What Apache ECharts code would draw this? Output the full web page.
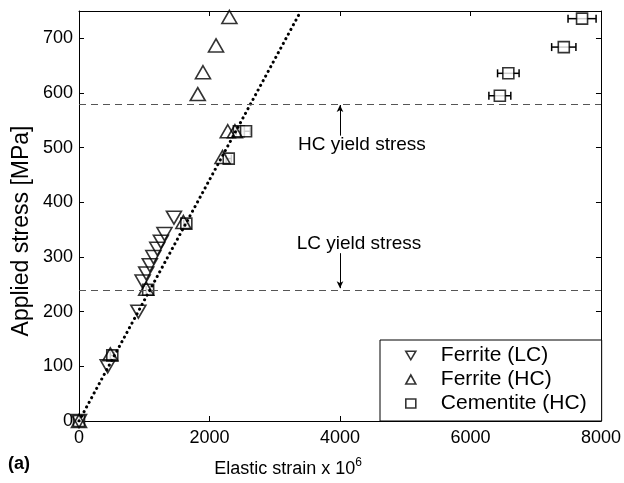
<!DOCTYPE html>
<html>
<head>
<meta charset="utf-8">
<script src="https://cdn.jsdelivr.net/npm/echarts@6/dist/echarts.min.js"></script>
<style>
  html, body { margin: 0; padding: 0; background: #fff; }
  #chart { width: 624px; height: 483px; }
</style>
</head>
<body>
<div id="chart"></div>
<script>
// Elastic lattice strain vs applied stress
const xTicks = [0, 2000, 4000, 6000, 8000];
const yTicks = [0, 100, 200, 300, 400, 500, 600, 700];

// [strain x 1e6, stress MPa]
const ferriteLC = [
  [0, 0], [440, 100], [910, 200], [975, 255], [1030, 270], [1085, 285],
  [1140, 300], [1200, 315], [1255, 328], [1310, 342], [1455, 372]
];
const ferriteHC = [
  [0, 0], [480, 122], [1030, 242], [1600, 364], [2200, 483], [2280, 530],
  [2390, 530], [1820, 598], [1900, 638], [2100, 687], [2305, 739]
];
// [strain x 1e6, stress MPa, half-width of error bar]
const cementiteHC = [
  [0, 0, 0], [510, 120, 30], [1060, 240, 30], [1645, 361, 40], [2295, 480, 40],
  [2450, 530, 40], [2560, 530, 65], [6450, 595, 168], [6580, 636, 165],
  [7430, 684, 186], [7710, 736, 215]
];
// linear elastic fit through the origin
const fitLine = [[0, 0], [3400, 750]];
const hcYield = 580;
const lcYield = 240;

const FONT = 'Liberation Sans, Arial, Helvetica, sans-serif';
const chart = echarts.init(document.getElementById('chart'), null, { renderer: 'canvas' });

const hollow = { color: 'rgba(0,0,0,0)', borderColor: '#000', borderWidth: 1.6 };
const downTri = 'path://M0,0 L14,0 L7,12 Z';

function baseAxis(extra) {
  return Object.assign({
    type: 'value',
    axisLine: { show: true, onZero: false, lineStyle: { color: '#000', width: 1 } },
    axisTick: { show: true, inside: true, length: 5, lineStyle: { color: '#000' } },
    splitLine: { show: false },
    axisLabel: { color: '#000', fontSize: 18, fontFamily: FONT }
  }, extra);
}

const option = {
  animation: false,
  backgroundColor: '#fff',
  grid: { left: 79, right: 21, top: 11, bottom: 62 },
  xAxis: [
    baseAxis({
      min: 0, max: 8000, interval: 2000, position: 'bottom',
      axisLabel: {
        color: '#000', fontSize: 18, fontFamily: FONT, margin: 8,
        formatter: v => (xTicks.indexOf(v) >= 0 ? String(v) : '')
      }
    }),
    baseAxis({ min: 0, max: 8000, interval: 2000, position: 'top', axisLabel: { show: false } })
  ],
  yAxis: [
    baseAxis({
      min: 0, max: 750, interval: 100, position: 'left',
      axisLabel: {
        color: '#000', fontSize: 18, fontFamily: FONT, margin: 6,
        formatter: v => (yTicks.indexOf(v) >= 0 ? String(v) : '')
      }
    }),
    baseAxis({ min: 0, max: 750, interval: 100, position: 'right', axisLabel: { show: false } })
  ],
  legend: {
    orient: 'vertical',
    left: 380, top: 340,
    backgroundColor: '#fff',
    borderColor: '#000', borderWidth: 1,
    padding: [5, 15, 7, 25],
    itemWidth: 10, itemHeight: 9, itemGap: 3,
    textStyle: { color: '#000', fontSize: 21, fontFamily: FONT, padding: [0, 0, 0, 20] },
    data: [
      { name: 'Ferrite (LC)', icon: downTri, itemStyle: hollow },
      { name: 'Ferrite (HC)', icon: 'triangle', itemStyle: hollow },
      { name: 'Cementite (HC)', icon: 'rect', itemStyle: hollow }
    ]
  },
  series: [
    {
      name: 'yield', type: 'line', data: [], silent: true,
      markLine: {
        silent: true, symbol: 'none', label: { show: false },
        lineStyle: { color: '#555', type: [7, 5], width: 1 },
        data: [{ yAxis: hcYield }, { yAxis: lcYield }]
      }
    },
    {
      name: 'fit', type: 'line', data: fitLine, showSymbol: false, silent: true,
      lineStyle: { color: '#000', width: 3, type: [0.1, 5.2], cap: 'round' }
    },
    {
      name: 'arrows', type: 'line', data: [], silent: true,
      markLine: {
        silent: true, symbol: ['none', 'arrow'], symbolSize: [5, 7], label: { show: false },
        lineStyle: { color: '#000', type: 'solid', width: 1 },
        data: [
          [{ coord: [4000, 522] }, { coord: [4000, 578] }],
          [{ coord: [4000, 307] }, { coord: [4000, 243] }]
        ]
      }
    },
    {
      name: 'Cementite (HC) err', type: 'custom', silent: true,
      data: cementiteHC,
      renderItem: function (params, api) {
        const x = api.value(0), y = api.value(1), e = api.value(2);
        if (!e) return null;
        const a = api.coord([x - e, y]);
        const b = api.coord([x + e, y]);
        const c = 4;
        const st = { stroke: '#000', lineWidth: 1.5 };
        return {
          type: 'group',
          children: [
            { type: 'line', shape: { x1: a[0], y1: a[1], x2: b[0], y2: b[1] }, style: st },
            { type: 'line', shape: { x1: a[0], y1: a[1] - c, x2: a[0], y2: a[1] + c }, style: st },
            { type: 'line', shape: { x1: b[0], y1: b[1] - c, x2: b[0], y2: b[1] + c }, style: st }
          ]
        };
      }
    },
    {
      name: 'Cementite (HC)', type: 'scatter', data: cementiteHC.map(d => [d[0], d[1]]),
      symbol: 'rect', symbolSize: 11, itemStyle: Object.assign({}, hollow, { color: '#fff' })
    },
    {
      name: 'Ferrite (HC)', type: 'scatter', data: ferriteHC,
      symbol: 'triangle', symbolSize: [15, 13], itemStyle: hollow
    },
    {
      name: 'Ferrite (LC)', type: 'scatter', data: ferriteLC,
      symbol: downTri, symbolSize: [15, 13], itemStyle: hollow
    }
  ]
};

chart.setOption(option);

// titles and yield-stress annotations (annotations positioned in data space)
const hcPos = chart.convertToPixel({ gridIndex: 0 }, [4000, 505]);
const lcPos = chart.convertToPixel({ gridIndex: 0 }, [4000, 325]);
chart.setOption({
  graphic: [
    {
      id: 'yname', type: 'text', x: 22, y: 231, rotation: Math.PI / 2,
      style: { text: 'Applied stress [MPa]', fill: '#000', font: '23px ' + FONT, textAlign: 'center', textVerticalAlign: 'middle' }
    },
    {
      id: 'xname', type: 'text', x: 288, y: 469,
      style: {
        text: 'Elastic strain x 10{sup|6}', fill: '#000', font: '18px ' + FONT,
        textAlign: 'center', textVerticalAlign: 'middle',
        rich: { sup: { fontSize: 12, fontFamily: FONT, fill: '#000', verticalAlign: 'top', padding: [0, 0, 12, 0] } }
      }
    },
    { id: 'panel', type: 'text', left: 8, top: 455, style: { text: '(a)', fill: '#000', font: 'bold 18px ' + FONT } },
    { id: 'hc', type: 'text', x: hcPos[0] + 22, y: hcPos[1], style: { text: 'HC yield stress', fill: '#000', font: '19px ' + FONT, textAlign: 'center', textVerticalAlign: 'middle' } },
    { id: 'lc', type: 'text', x: lcPos[0] + 19, y: lcPos[1], style: { text: 'LC yield stress', fill: '#000', font: '19px ' + FONT, textAlign: 'center', textVerticalAlign: 'middle' } }
  ]
});
</script>
</body>
</html>
